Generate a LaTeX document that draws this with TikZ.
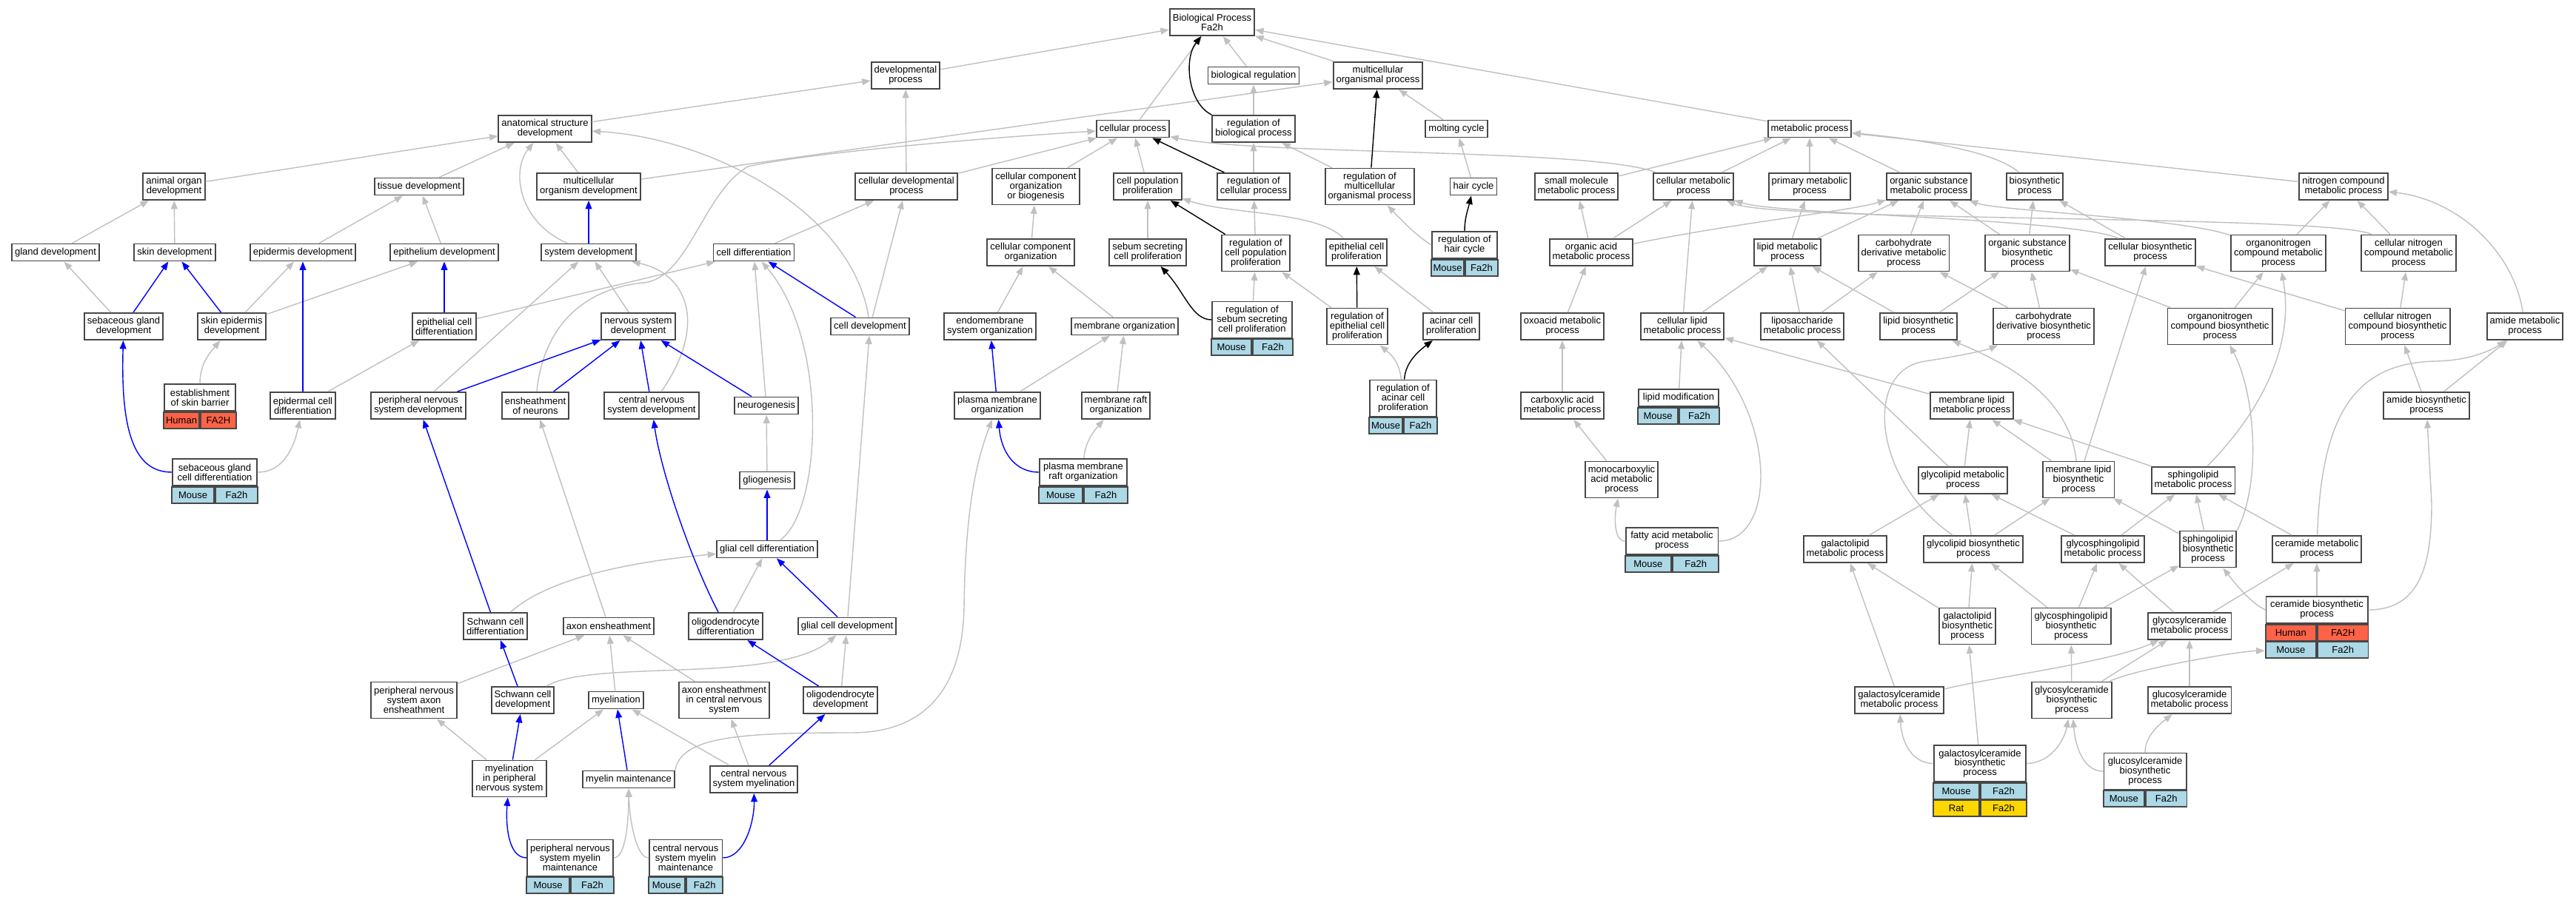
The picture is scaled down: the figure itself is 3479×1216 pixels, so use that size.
\documentclass[tikz,border=0pt]{standalone}
\usepackage{fontspec}
\setmainfont{Liberation Sans}
\usetikzlibrary{arrows.meta}
\definecolor{edgegray}{RGB}{192,192,192}
\definecolor{mouse}{RGB}{173,216,230}
\definecolor{human}{RGB}{255,99,71}
\definecolor{rat}{RGB}{255,215,0}
\newcommand{\orgrow}[6]{%
	\node[orgcell, fill=#3, minimum width=#2, anchor=north east] (#1a) at (#6) {#4};
	\node[orgcell, fill=#3, minimum width=#2, anchor=north west] (#1b) at (#6) {#5};}

\begin{document}
\begin{tikzpicture}[x=0.02cm, y=-0.02cm,
	term/.style={draw=black!72, line width=1.1pt, fill=white, align=center, inner xsep=2.3pt, inner ysep=0.5pt, font=\fontsize{7.4}{7.3}\selectfont},
	l1/.style={term, minimum height=13.1pt},
	l2/.style={term, minimum height=20.5pt},
	l3/.style={term, minimum height=27.9pt},
	orgcell/.style={draw=black!72, line width=1.1pt, inner sep=0pt, minimum height=12.3pt, font=\fontsize{7.4}{7.3}\selectfont},
	isa/.style={draw=edgegray, line width=0.8pt, -{Triangle[length=6.5pt,width=5pt]}},
	partof/.style={isa, draw=blue},
	regs/.style={isa, draw=black}]
	\fill[white] (0,0) rectangle (3479,1216);
	\useasboundingbox (0,0) rectangle (3479,1216);

	% terms
	\node[l2] (bp) at (1637,30) {Biological Process\\Fa2h};
	\node[l2] (dp) at (1223,102) {developmental\\process};
	\node[l1] (br) at (1693,102) {biological regulation};
	\node[l2] (mop) at (1861,102) {multicellular\\organismal process};
	\node[l2] (asd) at (736,174) {anatomical structure\\development};
	\node[l1] (cp) at (1530,174) {cellular process};
	\node[l2] (rbp) at (1693,174) {regulation of\\biological process};
	\node[l1] (mc) at (1967,174) {molting cycle};
	\node[l1] (mp) at (2444,174) {metabolic process};
	\node[l2] (aod) at (235,252) {animal organ\\development};
	\node[l1] (td) at (566,252) {tissue development};
	\node[l2] (mod) at (795,252) {multicellular\\organism development};
	\node[l2] (cdp) at (1224,252) {cellular developmental\\process};
	\node[l3] (ccob) at (1399,252) {cellular component\\organization\\or biogenesis};
	\node[l2] (cpp) at (1550,252) {cell population\\proliferation};
	\node[l2] (rcp) at (1693,252) {regulation of\\cellular process};
	\node[l3] (rmop) at (1850,252) {regulation of\\multicellular\\organismal process};
	\node[l1] (hc) at (1990,252) {hair cycle};
	\node[l2] (smmp) at (2129,252) {small molecule\\metabolic process};
	\node[l2] (cmp) at (2287,252) {cellular metabolic\\process};
	\node[l2] (pmp) at (2444,252) {primary metabolic\\process};
	\node[l2] (osmp) at (2605,252) {organic substance\\metabolic process};
	\node[l2] (bsp) at (2748,252) {biosynthetic\\process};
	\node[l2] (ncmp) at (3165,252) {nitrogen compound\\metabolic process};
	\node[l1] (gd) at (75,341) {gland development};
	\node[l1] (sd) at (236,341) {skin development};
	\node[l1] (epd) at (409,341) {epidermis development};
	\node[l1] (etd) at (600,341) {epithelium development};
	\node[l1] (sysd) at (795,341) {system development};
	\node[l1] (cd) at (1018,341) {cell differentiation};
	\node[l2] (cco) at (1392,341) {cellular component\\organization};
	\node[l2] (sscp) at (1550,341) {sebum secreting\\cell proliferation};
	\node[l3] (rcpp) at (1696,342) {regulation of\\cell population\\proliferation};
	\node[l2] (epcp) at (1832,341) {epithelial cell\\proliferation};
	\node[l2, minimum width=50.1pt] (rhc) at (1978,331) {regulation of\\hair cycle};
	\node[l2] (oamp) at (2149,341) {organic acid\\metabolic process};
	\node[l2] (lmp) at (2414,341) {lipid metabolic\\process};
	\node[l3] (cdmp) at (2571,342) {carbohydrate\\derivative metabolic\\process};
	\node[l3] (osbp) at (2738,342) {organic substance\\biosynthetic\\process};
	\node[l2] (cbp) at (2904,341) {cellular biosynthetic\\process};
	\node[l3] (oncmp) at (3077,342) {organonitrogen\\compound metabolic\\process};
	\node[l3] (cncmp) at (3253,342) {cellular nitrogen\\compound metabolic\\process};
	\node[l2] (sgd) at (167,441) {sebaceous gland\\development};
	\node[l2] (sed) at (313,441) {skin epidermis\\development};
	\node[l2] (ecd) at (600,441) {epithelial cell\\differentiation};
	\node[l2] (nsd) at (862,441) {nervous system\\development};
	\node[l1] (cdev) at (1175,441) {cell development};
	\node[l2] (eso) at (1337,441) {endomembrane\\system organization};
	\node[l1] (mo) at (1519,441) {membrane organization};
	\node[l3, minimum width=61.5pt] (rsscp) at (1691,432) {regulation of\\sebum secreting\\cell proliferation};
	\node[l3] (recp) at (1833,441) {regulation of\\epithelial cell\\proliferation};
	\node[l2] (acp) at (1960,441) {acinar cell\\proliferation};
	\node[l2] (oxmp) at (2110,441) {oxoacid metabolic\\process};
	\node[l2] (clmp) at (2272,441) {cellular lipid\\metabolic process};
	\node[l2] (lsmp) at (2434,441) {liposaccharide\\metabolic process};
	\node[l2] (lbp) at (2591,441) {lipid biosynthetic\\process};
	\node[l3] (cdbp) at (2760,441) {carbohydrate\\derivative biosynthetic\\process};
	\node[l3] (oncbp) at (2998,441) {organonitrogen\\compound biosynthetic\\process};
	\node[l3] (cncbp) at (3238,441) {cellular nitrogen\\compound biosynthetic\\process};
	\node[l2] (amp) at (3410,441) {amide metabolic\\process};
	\node[l2, minimum width=54.6pt] (esb) at (270,537) {establishment\\of skin barrier};
	\node[l2] (epcd) at (409,548) {epidermal cell\\differentiation};
	\node[l2] (pnsd) at (565,548) {peripheral nervous\\system development};
	\node[l2] (eon) at (723,548) {ensheathment\\of neurons};
	\node[l2] (cnsd) at (880,548) {central nervous\\system development};
	\node[l1] (ng) at (1035,548) {neurogenesis};
	\node[l2] (pmo) at (1347,548) {plasma membrane\\organization};
	\node[l2] (mro) at (1507,548) {membrane raft\\organization};
	\node[l3, minimum width=51.2pt] (racp) at (1895,538) {regulation of\\acinar cell\\proliferation};
	\node[l2] (camp) at (2110,548) {carboxylic acid\\metabolic process};
	\node[l1, minimum width=61.5pt] (lm) at (2267,537.5) {lipid modification};
	\node[l2] (mlmp) at (2663,548) {membrane lipid\\metabolic process};
	\node[l2] (abp) at (3277,548) {amide biosynthetic\\process};
	\node[l2, minimum width=64.9pt] (sgcd) at (290,638) {sebaceous gland\\cell differentiation};
	\node[l1] (gg) at (1036,649) {gliogenesis};
	\node[l2, minimum width=67.1pt] (pmro) at (1463,638) {plasma membrane\\raft organization};
	\node[l3] (mcamp) at (2190,648) {monocarboxylic\\acid metabolic\\process};
	\node[l2] (glymp) at (2651,649) {glycolipid metabolic\\process};
	\node[l3] (mlbp) at (2807,648) {membrane lipid\\biosynthetic\\process};
	\node[l2] (spmp) at (2962,649) {sphingolipid\\metabolic process};
	\node[l2, minimum width=71.1pt] (famp) at (2258,731) {fatty acid metabolic\\process};
	\node[l1] (gcd) at (1036,742) {glial cell differentiation};
	\node[l2] (glmp) at (2492,742) {galactolipid\\metabolic process};
	\node[l2] (glybp) at (2665,742) {glycolipid biosynthetic\\process};
	\node[l2] (gsmp) at (2840,742) {glycosphingolipid\\metabolic process};
	\node[l3] (spbp) at (2982,742) {sphingolipid\\biosynthetic\\process};
	\node[l2] (cmmp) at (3129,742) {ceramide metabolic\\process};
	\node[l2] (scd) at (669,846) {Schwann cell\\differentiation};
	\node[l1] (ae) at (822,846) {axon ensheathment};
	\node[l2] (odd) at (980,846) {oligodendrocyte\\differentiation};
	\node[l1] (gcdev) at (1144,846) {glial cell development};
	\node[l3] (glbp) at (2657,846) {galactolipid\\biosynthetic\\process};
	\node[l3] (gsbp) at (2797,846) {glycosphingolipid\\biosynthetic\\process};
	\node[l2] (gycmp) at (2957,846) {glycosylceramide\\metabolic process};
	\node[l2, minimum width=78pt] (cmbp) at (3129,824) {ceramide biosynthetic\\process};
	\node[l3] (pnsae) at (559,946) {peripheral nervous\\system axon\\ensheathment};
	\node[l2] (scdev) at (706,946) {Schwann cell\\development};
	\node[l1] (my) at (832,946) {myelination};
	\node[l3] (aecns) at (978,946) {axon ensheathment\\in central nervous\\system};
	\node[l2] (odev) at (1135,946) {oligodendrocyte\\development};
	\node[l2] (gcmp) at (2565,946) {galactosylceramide\\metabolic process};
	\node[l3] (gycbp) at (2798,946) {glycosylceramide\\biosynthetic\\process};
	\node[l2] (glucmp) at (2957,946) {glucosylceramide\\metabolic process};
	\node[l3] (mpns) at (688,1052) {myelination\\in peripheral\\nervous system};
	\node[l1] (mm) at (849,1053) {myelin maintenance};
	\node[l2] (cnsmy) at (1018,1053) {central nervous\\system myelination};
	\node[l3, minimum width=70.6pt] (gacbp) at (2674,1031.5) {galactosylceramide\\biosynthetic\\process};
	\node[l3, minimum width=63.2pt] (glucbp) at (2897,1042) {glucosylceramide\\biosynthetic\\process};
	\node[l3, minimum width=66pt] (pnsmm) at (770,1159) {peripheral nervous\\system myelin\\maintenance};
	\node[l3, minimum width=56.3pt] (cnsmm) at (926,1159) {central nervous\\system myelin\\maintenance};

	% species rows
	\orgrow{rhcr}{25.05pt}{mouse}{Mouse}{Fa2h}{rhc.south}
	\orgrow{rsscpr}{30.75pt}{mouse}{Mouse}{Fa2h}{rsscp.south}
	\orgrow{esbr}{27.3pt}{human}{Human}{FA2H}{esb.south}
	\orgrow{racpr}{25.6pt}{mouse}{Mouse}{Fa2h}{racp.south}
	\orgrow{lmr}{30.75pt}{mouse}{Mouse}{Fa2h}{lm.south}
	\orgrow{sgcdr}{32.45pt}{mouse}{Mouse}{Fa2h}{sgcd.south}
	\orgrow{pmror}{33.55pt}{mouse}{Mouse}{Fa2h}{pmro.south}
	\orgrow{fampr}{35.55pt}{mouse}{Mouse}{Fa2h}{famp.south}
	\orgrow{cmbpr}{39pt}{human}{Human}{FA2H}{cmbp.south}
	\orgrow{cmbpm}{39pt}{mouse}{Mouse}{Fa2h}{cmbpra.south east}
	\orgrow{gacbpr}{35.3pt}{mouse}{Mouse}{Fa2h}{gacbp.south}
	\orgrow{gacbpt}{35.3pt}{rat}{Rat}{Fa2h}{gacbpra.south east}
	\orgrow{glucbpr}{31.6pt}{mouse}{Mouse}{Fa2h}{glucbp.south}
	\orgrow{pnsmmr}{33pt}{mouse}{Mouse}{Fa2h}{pnsmm.south}
	\orgrow{cnsmmr}{28.15pt}{mouse}{Mouse}{Fa2h}{cnsmm.south}

	% is_a
	\draw[isa] (asd) -- (dp);
	\draw[isa] (dp) -- (bp);
	\draw[isa] (cp) -- (bp);
	\draw[isa] (br) -- (bp);
	\draw[isa] (mop) -- (bp);
	\draw[isa] (mp) -- (bp);
	\draw[isa] (aod) -- (asd);
	\draw[isa] (td) -- (asd);
	\draw[isa] (mod) -- (asd);
	\draw[isa] (sysd) .. controls (700,300) and (690,230) .. (asd);
	\draw[isa] (cdev) .. controls (1150,280) and (950,185) .. (asd);
	\draw[isa] (mod) -- (mop);
	\draw[isa] (rmop) -- (rbp);
	\draw[isa] (mc) -- (mop);
	\draw[isa] (hc) -- (mc);
	\draw[isa] (rhc.west) .. controls (1915,320) and (1895,300) .. (rmop);
	\draw[isa] (rbp) -- (br);
	\draw[isa] (rcp) -- (rbp);
	\draw[isa] (cdp) -- (dp);
	\draw[isa] (cdp) -- (cp);
	\draw[isa] (ccob) -- (cp);
	\draw[isa] (cpp) -- (cp);
	\draw[isa] (cmp) .. controls (2150,200) and (1700,210) .. (cp);
	\draw[isa] (eon) .. controls (735,430) and (800,388) .. (870,382) .. controls (930,375) and (950,260) .. (1010,225) .. controls (1100,205) and (1350,185) .. (cp);
	\draw[isa] (gd) -- (aod);
	\draw[isa] (sd) -- (aod);
	\draw[isa] (epd) -- (td);
	\draw[isa] (etd) -- (td);
	\draw[isa] (sgd) -- (gd);
	\draw[isa] (sed) -- (epd);
	\draw[isa] (sed) -- (etd);
	\draw[isa] (nsd) -- (sysd);
	\draw[isa] (pnsd) -- (sysd);
	\draw[isa] (cnsd) .. controls (955,440) and (930,370) .. (sysd);
	\draw[isa] (ecd) -- (cd);
	\draw[isa] (cd) -- (cdp);
	\draw[isa] (cdev) -- (cdp);
	\draw[isa] (cco) -- (ccob);
	\draw[isa] (sscp) -- (cpp);
	\draw[isa] (epcp) .. controls (1780,285) and (1660,290) .. (cpp);
	\draw[isa] (rcpp) -- (rcp);
	\draw[isa] (rsscp) -- (rcpp);
	\draw[isa] (recp) -- (rcpp);
	\draw[isa] (acp) -- (epcp);
	\draw[isa] (racp) .. controls (1890,490) and (1880,480) .. (recp);
	\draw[isa] (esb) .. controls (270,490) and (285,475) .. (sed);
	\draw[isa] (epcd) -- (ecd);
	\draw[isa] (sgcd.east) .. controls (385,638) and (398,600) .. (epcd);
	\draw[isa] (eso) -- (cco);
	\draw[isa] (mo) -- (cco);
	\draw[isa] (pmo) -- (mo);
	\draw[isa] (mro) -- (mo);
	\draw[isa] (pmro) .. controls (1465,600) and (1475,585) .. (mro);
	\draw[isa] (ng) -- (cd);
	\draw[isa] (gg) -- (ng);
	\draw[isa] (gcd) .. controls (1110,690) and (1120,460) .. (cd);
	\draw[isa] (scd) .. controls (730,790) and (820,762) .. (gcd);
	\draw[isa] (odd) -- (gcd);
	\draw[isa] (gcdev) -- (cdev);
	\draw[isa] (scdev) .. controls (800,890) and (1050,925) .. (gcdev);
	\draw[isa] (odev) -- (gcdev);
	\draw[isa] (ae) -- (eon);
	\draw[isa] (pnsae) -- (ae);
	\draw[isa] (my) -- (ae);
	\draw[isa] (aecns) -- (ae);
	\draw[isa] (mpns) -- (pnsae);
	\draw[isa] (mpns) -- (my);
	\draw[isa] (cnsmy) -- (my);
	\draw[isa] (cnsmy) -- (aecns);
	\draw[isa] (pnsmm.east) .. controls (845,1159) and (849,1110) .. (mm);
	\draw[isa] (cnsmm.west) .. controls (860,1159) and (850,1110) .. (mm);
	\draw[isa] (mm.north east) .. controls (920,995) and (1000,990) .. (1150,990) .. controls (1250,990) and (1300,930) .. (1302,820) .. controls (1304,680) and (1320,620) .. (pmo);
	\draw[isa] (smmp) -- (mp);
	\draw[isa] (cmp) -- (mp);
	\draw[isa] (pmp) -- (mp);
	\draw[isa] (osmp) -- (mp);
	\draw[isa] (bsp) .. controls (2690,200) and (2560,185) .. (mp);
	\draw[isa] (ncmp) -- (mp);
	\draw[isa] (oamp) -- (smmp);
	\draw[isa] (oamp) -- (cmp);
	\draw[isa] (oamp) .. controls (2350,300) and (2500,285) .. (osmp);
	\draw[isa] (lmp) -- (pmp);
	\draw[isa] (lmp) -- (osmp);
	\draw[isa] (cdmp) -- (osmp);
	\draw[isa] (osbp) -- (osmp);
	\draw[isa] (osbp) -- (bsp);
	\draw[isa] (cbp) -- (bsp);
	\draw[isa] (cbp) .. controls (2800,295) and (2400,290) .. (cmp);
	\draw[isa] (oncmp) .. controls (2950,295) and (2700,285) .. (osmp);
	\draw[isa] (oncmp) -- (ncmp);
	\draw[isa] (cncmp) -- (ncmp);
	\draw[isa] (cncmp) .. controls (3150,290) and (2400,300) .. (cmp);
	\draw[isa] (amp) .. controls (3395,340) and (3320,270) .. (ncmp);
	\draw[isa] (oxmp) -- (oamp);
	\draw[isa] (clmp) -- (cmp);
	\draw[isa] (clmp) -- (lmp);
	\draw[isa] (lsmp) -- (lmp);
	\draw[isa] (lsmp) -- (cdmp);
	\draw[isa] (lbp) -- (lmp);
	\draw[isa] (lbp) -- (osbp);
	\draw[isa] (cdbp) -- (cdmp);
	\draw[isa] (cdbp) -- (osbp);
	\draw[isa] (oncbp) -- (osbp);
	\draw[isa] (oncbp) -- (oncmp);
	\draw[isa] (cncbp) .. controls (3100,400) and (3000,370) .. (cbp);
	\draw[isa] (cncbp) -- (cncmp);
	\draw[isa] (camp) -- (oxmp);
	\draw[isa] (lm) -- (clmp);
	\draw[isa] (mlmp) -- (clmp);
	\draw[isa] (abp) -- (cncbp);
	\draw[isa] (abp) -- (amp);
	\draw[isa] (mcamp) -- (camp);
	\draw[isa] (famp.west) .. controls (2180,731) and (2180,700) .. (mcamp);
	\draw[isa] (famp.east) .. controls (2400,731) and (2400,560) .. (clmp);
	\draw[isa] (glymp) -- (mlmp);
	\draw[isa] (glymp) -- (lsmp);
	\draw[isa] (mlbp) -- (mlmp);
	\draw[isa] (mlbp) .. controls (2795,540) and (2720,495) .. (lbp);
	\draw[isa] (mlbp) -- (cbp);
	\draw[isa] (spmp) -- (mlmp);
	\draw[isa] (spmp) .. controls (3050,560) and (3100,470) .. (oncmp);
	\draw[isa] (glmp) -- (glymp);
	\draw[isa] (glybp) -- (glymp);
	\draw[isa] (glybp) -- (mlbp);
	\draw[isa] (glybp) .. controls (2530,650) and (2515,500) .. (2600,488) .. controls (2640,482) and (2680,474) .. (cdbp);
	\draw[isa] (gsmp) -- (glymp);
	\draw[isa] (gsmp) -- (spmp);
	\draw[isa] (spbp) -- (spmp);
	\draw[isa] (spbp) -- (mlbp);
	\draw[isa] (spbp.north east) .. controls (3055,650) and (3045,530) .. (oncbp);
	\draw[isa] (cmmp) -- (spmp);
	\draw[isa] (cmmp) .. controls (3135,560) and (3180,490) .. (3290,488) .. controls (3340,487) and (3370,470) .. (amp);
	\draw[isa] (glbp) -- (glmp);
	\draw[isa] (glbp) -- (glybp);
	\draw[isa] (gsbp) -- (glybp);
	\draw[isa] (gsbp) -- (gsmp);
	\draw[isa] (gsbp) -- (spbp);
	\draw[isa] (gycmp) -- (gsmp);
	\draw[isa] (gycmp) -- (cmmp);
	\draw[isa] (cmbp.west) .. controls (3040,815) and (3020,790) .. (spbp);
	\draw[isa] (cmbp) -- (cmmp);
	\draw[isa] (cmbp.east) .. controls (3270,824) and (3284,760) .. (3284,680) -- (abp);
	\draw[isa] (gcmp) -- (glmp);
	\draw[isa] (gcmp) .. controls (2690,915) and (2850,895) .. (gycmp);
	\draw[isa] (gycbp) -- (gsbp);
	\draw[isa] (gycbp) -- (gycmp);
	\draw[isa] (gycbp) .. controls (2880,905) and (3020,880) .. (cmbpma);
	\draw[isa] (glucmp) -- (gycmp);
	\draw[isa] (gacbp) -- (glbp);
	\draw[isa] (gacbp.east) .. controls (2770,1031) and (2788,1000) .. (gycbp);
	\draw[isa] (gacbp.west) .. controls (2580,1031) and (2568,1000) .. (gcmp);
	\draw[isa] (glucbp.west) .. controls (2810,1042) and (2802,1000) .. (gycbp);
	\draw[isa] (glucbp) .. controls (2897,995) and (2915,980) .. (glucmp);

	% part_of
	\draw[partof] (sysd) -- (mod);
	\draw[partof] (sgd) -- (sd);
	\draw[partof] (sed) -- (sd);
	\draw[partof] (ecd) -- (etd);
	\draw[partof] (epcd) -- (epd);
	\draw[partof] (pnsd) -- (nsd);
	\draw[partof] (eon) -- (nsd);
	\draw[partof] (cnsd) -- (nsd);
	\draw[partof] (ng) -- (nsd);
	\draw[partof] (cdev) -- (cd);
	\draw[partof] (sgcd.west) .. controls (180,638) and (163,580) .. (sgd);
	\draw[partof] (scd) -- (pnsd);
	\draw[partof] (scdev) -- (scd);
	\draw[partof] (mpns) -- (scdev);
	\draw[partof] (mm) -- (my);
	\draw[partof] (cnsmy) -- (odev);
	\draw[partof] (pnsmm.west) .. controls (685,1159) and (683,1110) .. (mpns);
	\draw[partof] (cnsmm.east) .. controls (1005,1159) and (1019,1110) .. (cnsmy);
	\draw[partof] (odd) .. controls (935,760) and (893,640) .. (cnsd);
	\draw[partof] (gcdev) -- (gcd);
	\draw[partof] (odev) -- (odd);
	\draw[partof] (gcd) -- (gg);
	\draw[partof] (pmo) -- (eso);
	\draw[partof] (pmro.west) .. controls (1370,638) and (1352,610) .. (pmo);

	% regulates
	\draw[regs] (rbp.north west) .. controls (1605,140) and (1598,80) .. (bp);
	\draw[regs] (rcp) -- (cp);
	\draw[regs] (rcpp) -- (cpp);
	\draw[regs] (rsscp.west) .. controls (1610,432) and (1600,395) .. (sscp);
	\draw[regs] (rmop) -- (mop);
	\draw[regs] (rhc) .. controls (1978,295) and (1982,285) .. (hc);
	\draw[regs] (recp) -- (epcp);
	\draw[regs] (racp) .. controls (1898,490) and (1915,475) .. (acp);
\end{tikzpicture}
\end{document}
